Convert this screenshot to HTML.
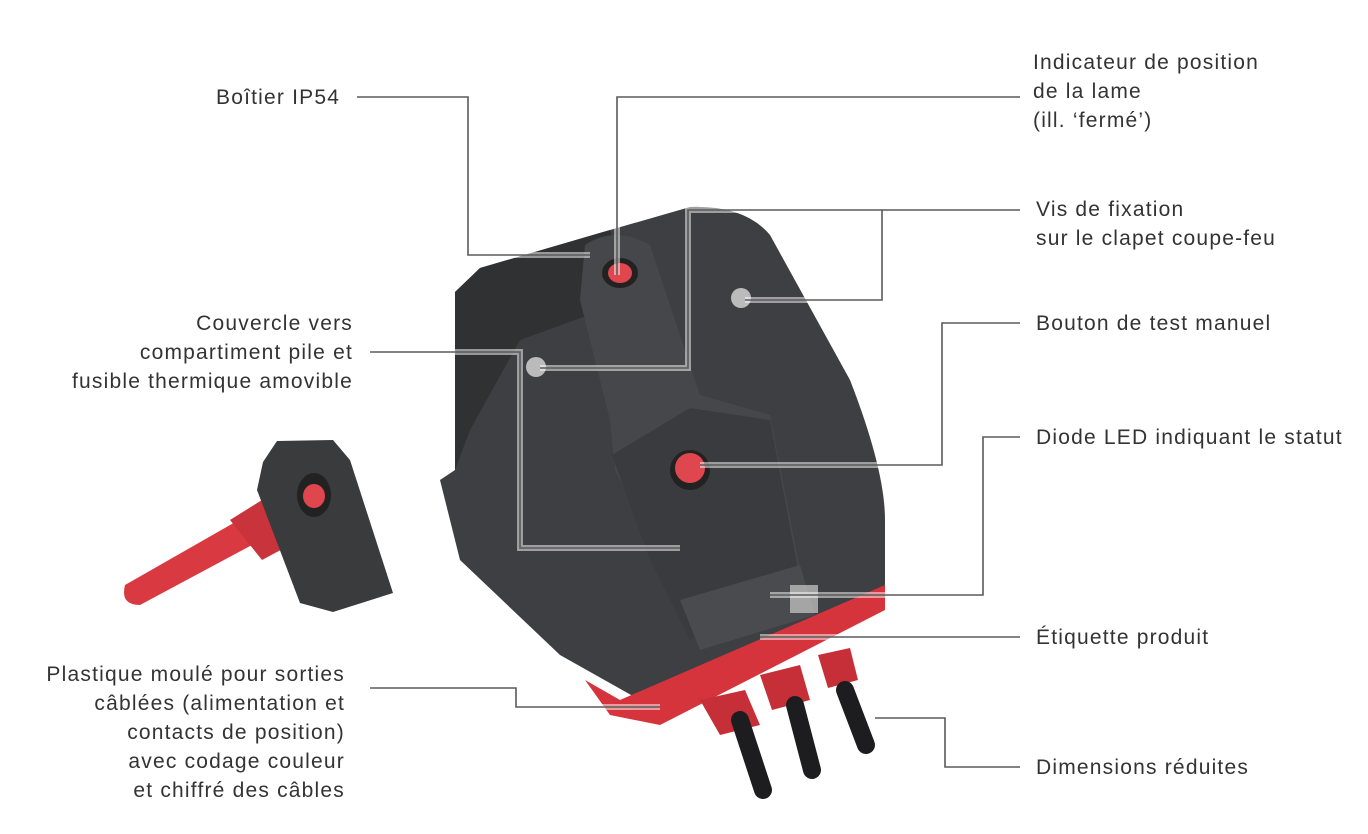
<!DOCTYPE html>
<html><head><meta charset="utf-8"><style>
html,body{margin:0;padding:0;background:#fff;width:1368px;height:834px;overflow:hidden}
svg{position:absolute;left:0;top:0}
.t{position:absolute;font-family:"Liberation Sans",sans-serif;font-size:21px;letter-spacing:1.2px;color:#333;line-height:29px;white-space:nowrap}
.r{text-align:right}
</style></head><body>
<svg width="1368" height="834" viewBox="0 0 1368 834">
<!-- small cover piece -->
<path d="M125,585 L265,505 L280,530 L140,605 Q120,605 125,585 Z" fill="#d93a42"/>
<path d="M230,520 L262,500 L290,545 L262,560 Z" fill="#c9333b"/>
<path d="M257,490 L263,462 L277,441 L333,440 L350,460 L393,593 L333,612 L300,603 Z" fill="#3a3b3d"/>
<ellipse cx="314" cy="495" rx="17" ry="22" fill="#222"/>
<ellipse cx="314" cy="496" rx="11" ry="12" fill="#e0464d"/>
<!-- main device body -->
<path d="M455,470 L440,480 L460,560 L560,655 L640,700 L885,590 L885,520 Q885,470 850,380 L770,235 Q745,205 690,207 L610,230 L480,268 L455,292 Z" fill="#3e3f42"/>
<path d="M455,292 L480,268 L610,230 L630,300 L520,340 L470,430 L455,470 Z" fill="#303133"/>
<path d="M585,245 Q615,225 650,245 L700,395 L770,415 L800,570 L690,620 L615,470 L610,420 L580,300 Z" fill="#46474a"/>
<path d="M612,455 L690,408 L770,420 L800,580 L690,640 L650,560 Z" fill="#3a3b3e"/>
<!-- label -->
<path d="M680,600 L800,565 L815,615 L700,650 Z" fill="#4a4b4e"/>
<rect x="790" y="585" width="28" height="28" fill="#ccc" opacity="0.7"/>
<!-- red band -->
<path d="M585,680 L620,700 L885,585 L885,610 L660,725 L610,715 Z" fill="#d6343c"/>
<path d="M700,700 L745,690 L760,725 L720,735 Z" fill="#c62f37"/>
<path d="M760,675 L800,665 L810,700 L772,710 Z" fill="#c62f37"/>
<path d="M818,655 L850,648 L858,680 L828,688 Z" fill="#c62f37"/>
<!-- cables -->
<g stroke="#1d1d1f" stroke-width="18" stroke-linecap="round">
<line x1="740" y1="720" x2="763" y2="790"/>
<line x1="795" y1="705" x2="812" y2="770"/>
<line x1="845" y1="690" x2="866" y2="745"/>
</g>
<!-- parts -->
<ellipse cx="620" cy="273" rx="18" ry="15" fill="#222"/>
<ellipse cx="620" cy="273" rx="12" ry="10" fill="#e0464d"/>
<circle cx="741" cy="298" r="10" fill="#bbb"/>
<circle cx="536" cy="367" r="10" fill="#bbb"/>
<circle cx="690" cy="470" r="20" fill="#222"/>
<circle cx="690" cy="468" r="15" fill="#e0464d"/>
<!-- leader lines -->
<g fill="none" stroke="#fff" stroke-width="6" opacity="0.5">
<path d="M357,97 H468 V255 H590"/><path d="M1020,97 H617 V275"/>
<path d="M1020,210 H882 V300 H745"/><path d="M882,210 H688 V368 H540"/>
<path d="M370,352 H520 V548 H680"/><path d="M1020,323 H942 V465 H700"/>
<path d="M1020,437 H983 V595 H770"/><path d="M1020,637 H760"/>
<path d="M370,688 H516 V707 H660"/><path d="M1020,767 H945 V718 H875"/>
</g>
<g fill="none" stroke="#5a5a5a" stroke-width="1.6">
<path d="M357,97 H468 V255 H590"/><path d="M1020,97 H617 V275"/>
<path d="M1020,210 H882 V300 H745"/><path d="M882,210 H688 V368 H540"/>
<path d="M370,352 H520 V548 H680"/><path d="M1020,323 H942 V465 H700"/>
<path d="M1020,437 H983 V595 H770"/><path d="M1020,637 H760"/>
<path d="M370,688 H516 V707 H660"/><path d="M1020,767 H945 V718 H875"/>
</g>
</svg>
<div class="t" style="left:216px;top:83px">Boîtier IP54</div>
<div class="t" style="left:1033px;top:48px">Indicateur de position<br>de la lame<br>(ill. ‘fermé’)</div>
<div class="t" style="left:1036px;top:195px">Vis de fixation<br>sur le clapet coupe-feu</div>
<div class="t r" style="right:1015px;top:309px">Couvercle vers<br>compartiment pile et<br>fusible thermique amovible</div>
<div class="t" style="left:1036px;top:309px">Bouton de test manuel</div>
<div class="t" style="left:1036px;top:423px">Diode LED indiquant le statut</div>
<div class="t" style="left:1036px;top:623px">Étiquette produit</div>
<div class="t r" style="right:1023px;top:660px">Plastique moulé pour sorties<br>câblées (alimentation et<br>contacts de position)<br>avec codage couleur<br>et chiffré des câbles</div>
<div class="t" style="left:1036px;top:753px">Dimensions réduites</div>
</body></html>
